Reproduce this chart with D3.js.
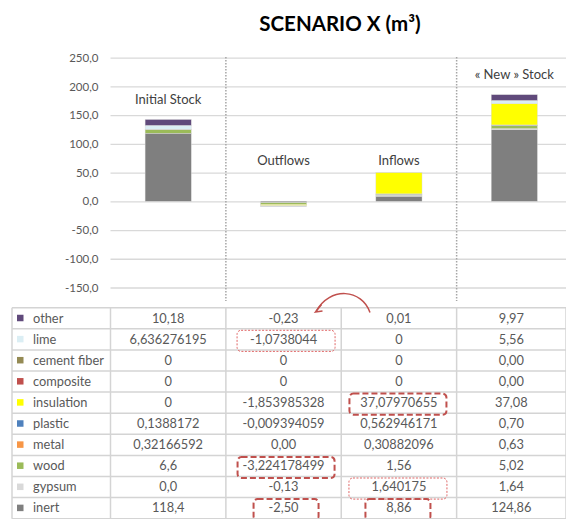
<!DOCTYPE html>
<html>
<head>
<meta charset="utf-8">
<script src="https://cdn.jsdelivr.net/npm/d3@7"></script>
<style>
  html, body { margin: 0; padding: 0; background: #fff; }
  svg { display: block; }
</style>
</head>
<body>
<svg id="chart" width="566" height="519"></svg>
<script>
// ---------------- DATA ----------------
const title = "SCENARIO X (m³)";
const categories = ["Initial Stock", "Outflows", "Inflows", "« New » Stock"];
const materials = ["other", "lime", "cement fiber", "composite", "insulation", "plastic", "metal", "wood", "gypsum", "inert"];
const materialColors = ["#604a7b", "#dbeef4", "#948a54", "#c0504d", "#ffff00", "#4f81bd", "#f79646", "#9bbb59", "#d9d9d9", "#7f7f7f"];
// table values as printed (decimal comma), one array per column
const initialStock = ["10,18", "6,636276195", "0", "0", "0", "0,1388172", "0,32166592", "6,6", "0,0", "118,4"];
const outflows = ["-0,23", "-1,0738044", "0", "0", "-1,853985328", "-0,009394059", "0,00", "-3,224178499", "-0,13", "-2,50"];
const inflows = ["0,01", "0", "0", "0", "37,07970655", "0,562946171", "0,30882096", "1,56", "1,640175", "8,86"];
const newStock = ["9,97", "5,56", "0,00", "0,00", "37,08", "0,70", "0,63", "5,02", "1,64", "124,86"];
const yTicks = [250, 200, 150, 100, 50, 0, -50, -100, -150];
// value at which each category caption sits
const captionValues = [177, 70.5, 70.5, 221];
// highlighted table cells: [material, column index (0..3), style]
const highlights = [
  ["lime", 1, "thin"], ["insulation", 2, "thick"], ["wood", 1, "thick"],
  ["gypsum", 2, "thin"], ["inert", 1, "thickSmall"], ["inert", 2, "thickSmall"]
];

// ---------------- LAYOUT ----------------
const svg = d3.select("#chart");
const plotLeft = 110.5, plotRight = 572;
const tableLeft = 12, tableRight = 566, tableTop = 307.7, rowH = 21.1;
const textColor = "#595959";
const font = "Lato, 'Open Sans', sans-serif";

const columns = [initialStock, outflows, inflows, newStock];
const parse = s => +s.replace(",", ".");
const rows = categories.map((c, ci) => {
  const o = { category: c };
  materials.forEach((m, mi) => o[m] = parse(columns[ci][mi]));
  return o;
});

const x = d3.scaleBand().domain(categories).range([plotLeft, plotRight]).paddingInner(0.6).paddingOuter(0.3);
const step = x.step();
const y = d3.scaleLinear().domain([-150, 250]).range([287.5, 57.6]);

const locale = d3.formatLocale({ decimal: ",", thousands: ".", grouping: [3], currency: ["", ""], minus: "-" });
const fmt = locale.format(".1f");

// title
svg.append("text").attr("x", 340).attr("y", 31).attr("text-anchor", "middle")
  .attr("font-family", font).attr("font-weight", "bold").attr("font-size", 20.5)
  .attr("fill", "#000").text(title);

// gridlines + y axis
const yAxis = d3.axisLeft(y).tickValues(yTicks).tickFormat(fmt).tickSize(-(566 - plotLeft)).tickPadding(12);
const gy = svg.append("g").attr("transform", `translate(${plotLeft},0)`).call(yAxis);
gy.select(".domain").remove();
gy.selectAll(".tick line").attr("stroke", "#d9d9d9").attr("stroke-width", 1.3);
gy.selectAll(".tick text").attr("font-family", font).attr("font-size", 11.5).attr("fill", textColor);

// dotted separators
[1, 3].forEach(i => {
  const xs = plotLeft + i * step;
  svg.append("line").attr("x1", xs).attr("x2", xs).attr("y1", 57).attr("y2", 301)
    .attr("stroke", "#a6a6a6").attr("stroke-width", 1.5).attr("stroke-dasharray", "1.5,1.5");
});

// stacked bars
const stackKeys = materials.slice().reverse();
const series = d3.stack().keys(stackKeys).offset(d3.stackOffsetDiverging)(rows);
const color = d3.scaleOrdinal().domain(materials).range(materialColors);
svg.append("g").selectAll("g").data(series).join("g")
  .attr("fill", d => color(d.key))
  .selectAll("rect").data(d => d.filter(p => p[1] !== p[0])).join("rect")
  .attr("x", d => x(d.data.category))
  .attr("width", x.bandwidth())
  .attr("y", d => y(Math.max(d[0], d[1])))
  .attr("height", d => Math.abs(y(d[0]) - y(d[1])))
  .attr("stroke", "#d9d9d9").attr("stroke-width", 0.4);

// captions
svg.append("g").selectAll("text").data(categories).join("text")
  .attr("x", d => x(d) + x.bandwidth() / 2)
  .attr("y", (d, i) => y(captionValues[i]) + 4.5)
  .attr("text-anchor", "middle").attr("font-family", font).attr("font-size", 13)
  .attr("fill", "#404040").text(d => d);

// ---------------- TABLE ----------------
const colEdges = [tableLeft, plotLeft, plotLeft + step, plotLeft + 2 * step, plotLeft + 3 * step, tableRight];
const tg = svg.append("g");
const lineC = "#d4d4d4";
for (let r = 0; r <= materials.length; r++) {
  tg.append("line").attr("x1", tableLeft).attr("x2", tableRight)
    .attr("y1", tableTop + r * rowH).attr("y2", tableTop + r * rowH)
    .attr("stroke", lineC).attr("stroke-width", 1.5);
}
colEdges.forEach(cx => {
  tg.append("line").attr("x1", cx).attr("x2", cx).attr("y1", tableTop).attr("y2", tableTop + materials.length * rowH)
    .attr("stroke", lineC).attr("stroke-width", 1.5);
});
materials.forEach((m, mi) => {
  const cy = tableTop + mi * rowH + rowH / 2;
  tg.append("rect").attr("x", 17).attr("y", cy - 3.5).attr("width", 6.5).attr("height", 6.5).attr("fill", color(m));
  tg.append("text").attr("x", 33).attr("y", cy + 4.3).attr("font-family", font).attr("font-size", 12.8)
    .attr("fill", textColor).text(m);
  columns.forEach((col, ci) => {
    tg.append("text").attr("x", (colEdges[ci + 1] + colEdges[ci + 2]) / 2).attr("y", cy + 4.3)
      .attr("text-anchor", "middle").attr("font-family", font).attr("font-size", 12.8)
      .attr("fill", textColor).text(col[mi]);
  });
});

// highlight boxes
const hStyles = {
  thin: { w: 98, stroke: "#e06666", sw: 1, dash: "2,1.5" },
  thick: { w: 97, stroke: "#c0504d", sw: 2, dash: "6,3" },
  thickSmall: { w: 65, stroke: "#c0504d", sw: 2, dash: "6,3" }
};
highlights.forEach(([m, ci, s]) => {
  const st = hStyles[s];
  const cx = (colEdges[ci + 1] + colEdges[ci + 2]) / 2 + (ci === 1 ? 2.5 : -1);
  const ry = tableTop + materials.indexOf(m) * rowH + 1.5;
  tg.append("rect").attr("x", cx - st.w / 2).attr("y", ry).attr("width", st.w).attr("height", rowH)
    .attr("rx", 4).attr("fill", "none").attr("stroke", st.stroke).attr("stroke-width", st.sw)
    .attr("stroke-dasharray", st.dash);
});

// curved arrow
svg.append("path").attr("d", "M370,312.5 C362,289 330,286 316,311.5")
  .attr("fill", "none").attr("stroke", "#c0504d").attr("stroke-width", 1.5);
svg.append("path").attr("d", "M321.5,304.5 L315.5,312 L322.5,311")
  .attr("fill", "none").attr("stroke", "#c0504d").attr("stroke-width", 1.5);
</script>
</body>
</html>
